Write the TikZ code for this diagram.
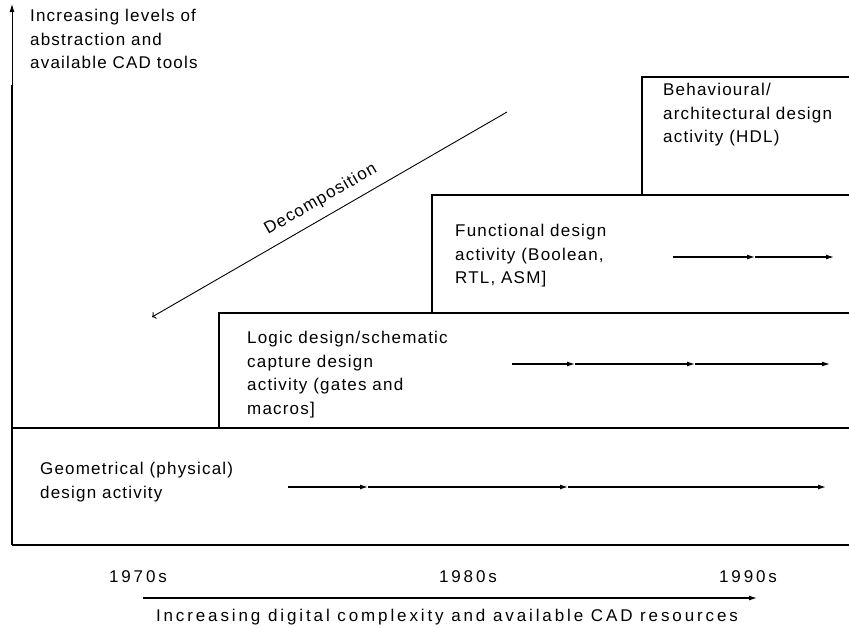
\documentclass[tikz,border=0pt]{standalone}
\usepackage{fontspec}
\setmainfont{Liberation Sans}[LetterSpace=7]
\usetikzlibrary{arrows.meta}

\begin{document}
\begin{tikzpicture}[x=1pt, y=-1pt,
  every node/.style={font=\fontsize{17}{23.5}\selectfont, inner sep=0pt},
  stepline/.style={line width=1.8pt},
  flow/.style={line width=1.2pt, -{Latex[length=8pt,width=5pt]}},
  txt/.style={align=left, anchor=north west},
  wide/.style={font=\fontsize{17}{23.5}\selectfont\addfontfeature{LetterSpace=17}}]
  \useasboundingbox (0,0) rectangle (849,627);

  % staircase of design activities
  \draw[stepline] (12,545) -- (849,545);
  \draw[stepline] (12,428) -- (849,428);
  \draw[stepline] (219,428) -- (219,313) -- (849,313);
  \draw[stepline] (432,313) -- (432,195) -- (849,195);
  \draw[stepline] (642,195) -- (642,77) -- (849,77);

  % vertical axis
  \coordinate (ybase) at (12,545);
  \coordinate (ymid) at (12,85);
  \coordinate (ytop) at (12,4);
  \draw[stepline] (ybase) -- (ymid);
  \draw[flow, line width=0.9pt] (ymid) -- (ytop);
  \node[txt] (yaxis) at (30,9) {Increasing levels of\\abstraction and\\available CAD tools};

  % activity labels
  \node[txt] (behav) at (663,83) {Behavioural/\\architectural design\\activity (HDL)};
  \node[txt] (func) at (455,224) {Functional design\\activity (Boolean,\\RTL, ASM]};
  \node[txt] (logic) at (247,331) {Logic design/schematic\\capture design\\activity (gates and\\macros]};
  \node[txt] (geom) at (40,462) {Geometrical (physical)\\design activity};

  % flow arrows inside the steps
  \foreach \n/\y/\xs in {g/487/{288,368,568,826}, l/364/{512,575,695,830}, f/257/{673,755,834}} {
    \foreach \x [count=\k] in \xs
      \coordinate (\n\k) at (\x,\y);
  }
  \foreach \a/\b in {g1/g2,g2/g3,g3/g4,l1/l2,l2/l3,l3/l4,f1/f2,f2/f3}
    \draw[flow] (\a) -- (\b);

  % decomposition
  \coordinate (dlow) at (152,317);
  \coordinate (dhigh) at (507,112);
  \draw[flow, line width=0.9pt, <-] (dlow) -- node[sloped, above=9pt, pos=0.5] (decomp) {Decomposition} (dhigh);

  % time axis
  \node[wide] (t70) at (138,577) {1970s};
  \node[wide] (t80) at (468,577) {1980s};
  \node[wide] (t90) at (748,577) {1990s};
  \coordinate (xstart) at (143,598);
  \coordinate (xend) at (757,598);
  \draw[flow] (xstart) -- (xend);
  \node[wide] (xaxis) at (447,617) {Increasing digital complexity and available CAD resources};
\end{tikzpicture}
\end{document}
